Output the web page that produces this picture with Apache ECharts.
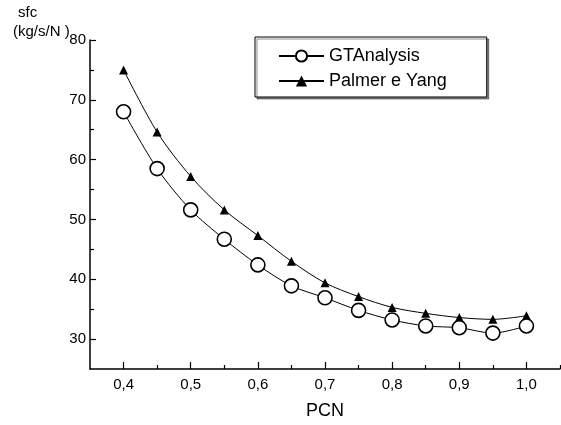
<!DOCTYPE html>
<html>
<head>
<meta charset="utf-8">
<script src="https://cdn.jsdelivr.net/npm/echarts@6/dist/echarts.min.js"></script>
<style>html,body{margin:0;padding:0;background:#fff}#c{width:561px;height:425px}</style>
</head>
<body>
<div id="c"></div>
<script>
const pcn = [0.40, 0.45, 0.50, 0.55, 0.60, 0.65, 0.70, 0.75, 0.80, 0.85, 0.90, 0.95, 1.00];
const gtAnalysis = [68.0, 58.5, 51.6, 46.7, 42.4, 38.9, 36.9, 34.8, 33.2, 32.2, 31.9, 31.0, 32.2];
const palmerYang = [75.0, 64.6, 57.2, 51.6, 47.3, 43.0, 39.4, 37.1, 35.3, 34.3, 33.6, 33.3, 33.9];
const xMajorTicks = [0.4, 0.5, 0.6, 0.7, 0.8, 0.9, 1.0];
const xMinorTicks = [0.45, 0.55, 0.65, 0.75, 0.85, 0.95, 1.05];
const yMajorTicks = [30, 40, 50, 60, 70, 80];
const yMinorTicks = [35, 45, 55, 65, 75];
const seriesNames = ['GTAnalysis', 'Palmer e Yang'];

const FONT = 'Liberation Sans, Arial, sans-serif';
const chart = echarts.init(document.getElementById('c'), null, {renderer: 'canvas'});
const pair = (xs, ys) => xs.map((x, i) => [x, ys[i]]);

chart.setOption({
  animation: false,
  backgroundColor: '#fff',
  textStyle: {fontFamily: FONT, color: '#000'},
  grid: {left: 90, right: 1, top: 40, bottom: 52, containLabel: false},
  legend: {
    orient: 'vertical', left: 255, top: 37,
    padding: [10, 40, 7, 23],
    itemWidth: 45, itemHeight: 14, itemGap: 7,
    borderColor: '#000', borderWidth: 1,
    shadowColor: 'rgba(0,0,0,0.45)', shadowOffsetX: 2, shadowOffsetY: 2, shadowBlur: 0,
    backgroundColor: '#fff',
    textStyle: {fontSize: 18, color: '#000', fontFamily: FONT},
    data: seriesNames
  },
  xAxis: [{
    type: 'value', min: 0.35, max: 1.05,
    name: 'PCN', nameLocation: 'middle', nameGap: 33,
    nameTextStyle: {fontSize: 18, color: '#000', fontFamily: FONT},
    axisLine: {show: true, lineStyle: {color: '#000', width: 1.5}},
    axisTick: {show: true, inside: true, length: 7, customValues: xMajorTicks, lineStyle: {color: '#000', width: 1.2}},
    axisLabel: {show: true, margin: 8, fontSize: 15, color: '#000', fontFamily: FONT,
      customValues: xMajorTicks, formatter: v => v.toFixed(1).replace('.', ',')},
    splitLine: {show: false}
  }, {
    type: 'value', min: 0.35, max: 1.05, position: 'bottom',
    axisLine: {show: false},
    axisTick: {show: true, inside: true, length: 4, customValues: xMinorTicks, lineStyle: {color: '#000', width: 1.2}},
    axisLabel: {show: false},
    splitLine: {show: false}
  }],
  yAxis: [{
    type: 'value', min: 25, max: 80,
    axisLine: {show: true, lineStyle: {color: '#000', width: 1.5}},
    axisTick: {show: true, inside: true, length: 6, customValues: yMajorTicks, lineStyle: {color: '#000', width: 1.2}},
    axisLabel: {show: true, margin: 4, fontSize: 15, color: '#000', fontFamily: FONT, customValues: yMajorTicks},
    splitLine: {show: false}
  }, {
    type: 'value', min: 25, max: 80, position: 'left',
    axisLine: {show: false},
    axisTick: {show: true, inside: true, length: 4, customValues: yMinorTicks, lineStyle: {color: '#000', width: 1.2}},
    axisLabel: {show: false},
    splitLine: {show: false}
  }],
  graphic: [
    {type: 'text', left: 18, top: 5, style: {text: 'sfc', fontSize: 15, fill: '#000', fontFamily: FONT}},
    {type: 'text', left: 13, top: 24, style: {text: '(kg/s/N )', fontSize: 15, fill: '#000', fontFamily: FONT}}
  ],
  series: [{
    name: seriesNames[0], type: 'line', smooth: 0.3,
    data: pair(pcn, gtAnalysis),
    symbol: 'circle', symbolSize: 14,
    lineStyle: {color: '#000', width: 1},
    itemStyle: {color: '#fff', borderColor: '#000', borderWidth: 1.6},
    z: 3
  }, {
    name: seriesNames[1], type: 'line', smooth: 0.3,
    data: pair(pcn, palmerYang),
    symbol: 'triangle', symbolSize: 9,
    lineStyle: {color: '#000', width: 1},
    itemStyle: {color: '#000', borderColor: '#000', borderWidth: 0},
    z: 2
  }]
});
</script>
</body>
</html>
